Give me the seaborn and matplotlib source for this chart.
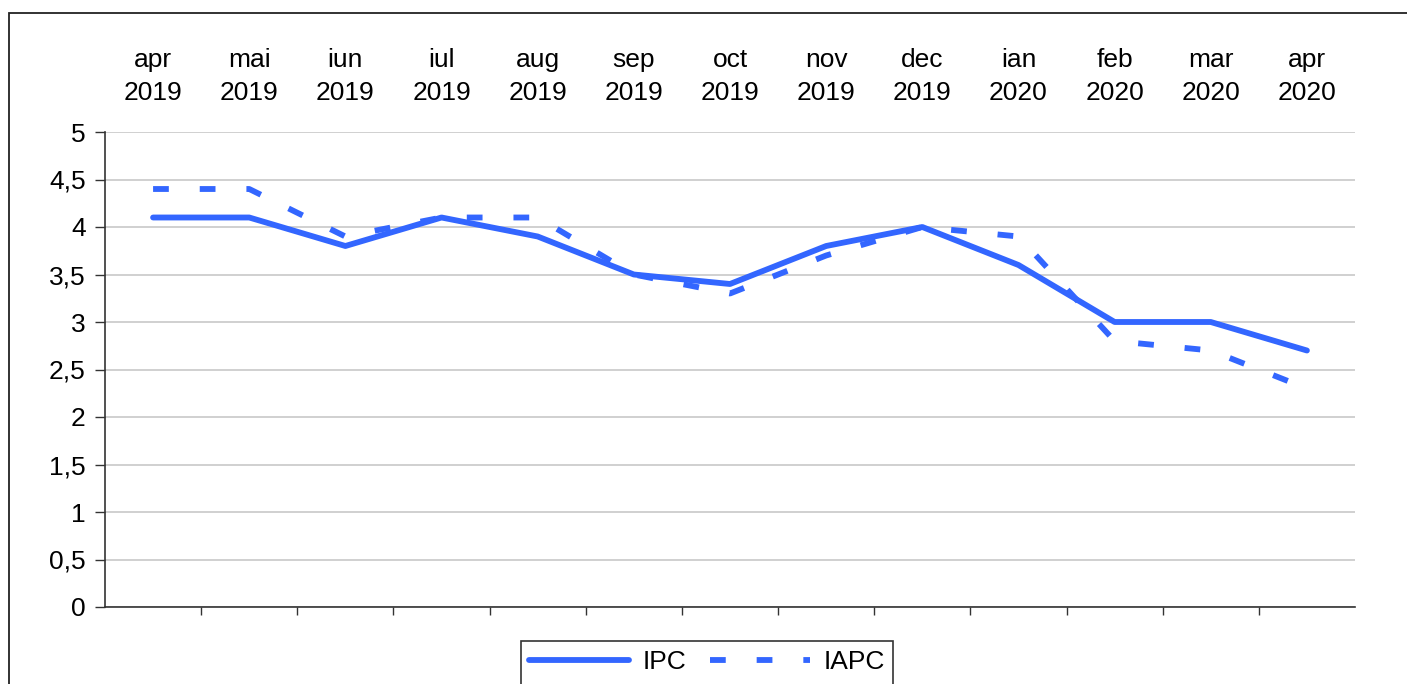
import pandas as pd
import matplotlib.pyplot as plt
import seaborn as sns
from matplotlib.patches import Rectangle
from matplotlib.ticker import FixedLocator, FuncFormatter

# Datos
luni = ["apr\n2019", "mai\n2019", "iun\n2019", "iul\n2019", "aug\n2019", "sep\n2019",
        "oct\n2019", "nov\n2019", "dec\n2019", "ian\n2020", "feb\n2020", "mar\n2020",
        "apr\n2020"]
ipc = [4.1, 4.1, 3.8, 4.1, 3.9, 3.5, 3.4, 3.8, 4.0, 3.6, 3.0, 3.0, 2.7]
iapc = [4.4, 4.4, 3.9, 4.1, 4.1, 3.5, 3.3, 3.7, 4.0, 3.9, 2.8, 2.7, 2.3]

pos = list(range(len(luni)))
df = pd.DataFrame({
    "pos": pos + pos,
    "valor": ipc + iapc,
    "serie": ["IPC"] * len(ipc) + ["IAPC"] * len(iapc),
})

sns.set_style("white")
plt.rcParams["font.family"] = ["Liberation Sans", "DejaVu Sans"]
plt.rcParams["text.color"] = "black"
plt.rcParams["xtick.color"] = "black"
plt.rcParams["ytick.color"] = "black"

fig = plt.figure(figsize=(14.07, 6.84), dpi=100)
ax = fig.add_axes([105 / 1407, 77 / 684, 1250 / 1407, 475 / 684])

albastru = "#3366ff"
lw = 4.2
sns.lineplot(data=df, x="pos", y="valor", style="serie", color=albastru,
             dashes={"IPC": "", "IAPC": (2.7, 5.3)}, linewidth=lw, ax=ax,
             legend=False)
for ln in ax.lines:
    ln.set_dash_capstyle("butt")
    ln.set_solid_capstyle("round")

ax.set_xlim(-0.5, len(luni) - 0.5)
ax.set_ylim(0, 5)
ax.set_yticks([i * 0.5 for i in range(11)])
ax.yaxis.set_major_formatter(FuncFormatter(lambda v, p: f"{v:g}".replace(".", ",")))
ax.set_xticks(pos)
ax.set_xticklabels(luni, linespacing=1.45)
ax.xaxis.set_minor_locator(FixedLocator([p + 0.5 for p in pos[:-1]]))
ax.tick_params(axis="x", which="major", top=False, bottom=False, labeltop=True,
               labelbottom=False, labelsize=19, pad=16)
ax.tick_params(axis="x", which="minor", bottom=True, length=6, width=1, color="#333333")
ax.tick_params(axis="y", left=True, length=7, width=1, color="#333333", labelsize=19, pad=7)

ax.set_xlabel("")
ax.set_ylabel("")
ax.grid(axis="y", color="#d0d0d0", linewidth=1.4)
ax.set_axisbelow(True)
for s in ["top", "right"]:
    ax.spines[s].set_visible(False)
for s in ["left", "bottom"]:
    ax.spines[s].set_color("#333333")
    ax.spines[s].set_linewidth(1.2)

# leyenda (el recuadro sigue por debajo del borde, como en el original)
h_ipc = plt.Line2D([], [], color=albastru, lw=lw, solid_capstyle="round")
h_iapc = plt.Line2D([], [], color=albastru, lw=lw, linestyle=(0, (2.7, 5.3)),
                    dash_capstyle="butt")
leg = fig.legend([h_ipc, h_iapc], ["IPC", "IAPC"], ncol=2, loc="upper center",
                 bbox_to_anchor=(707 / 1407, 43 / 684), bbox_transform=fig.transFigure,
                 frameon=False, fontsize=19,
                 handlelength=3.8, borderaxespad=0, borderpad=0.35, columnspacing=0.9,
                 handletextpad=0.5)
fig.add_artist(Rectangle((521 / 1407, -0.05), 372 / 1407, 0.05 + 43 / 684,
                         transform=fig.transFigure, fill=False,
                         edgecolor="#333333", linewidth=1.2))

# marco exterior
fig.add_artist(Rectangle((9 / 1407, -0.1), 1.1, 1.1 - 13 / 684, transform=fig.transFigure,
                         fill=False, edgecolor="#222222", linewidth=1.3))

fig.savefig("out.png", dpi=100)
